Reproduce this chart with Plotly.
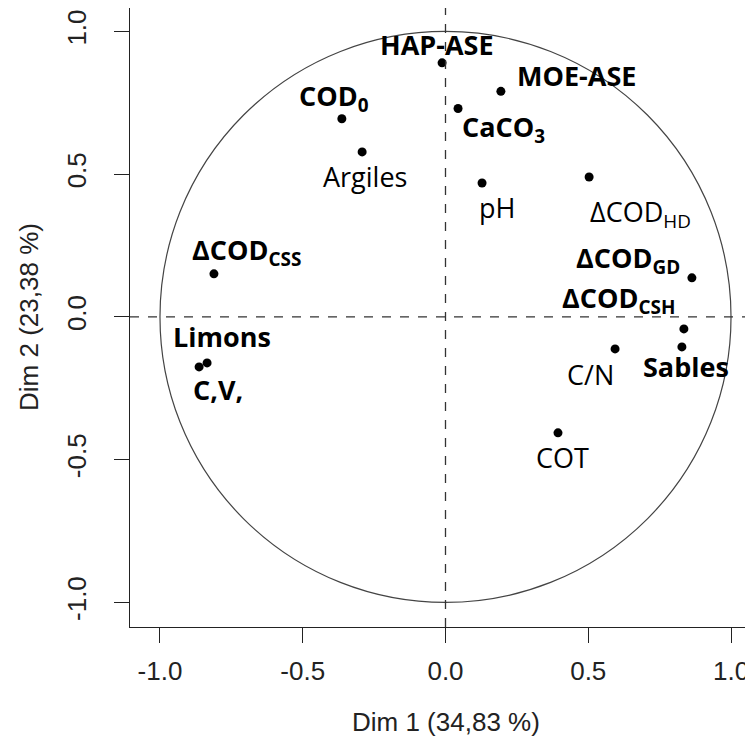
import plotly.graph_objects as go

# Variables of the PCA correlation circle (coordinates on Dim 1 / Dim 2)
labels = ["HAP-ASE", "MOE-ASE", "CaCO<sub>3</sub>", "COD<sub>0</sub>", "Argiles",
          "pH", "ΔCOD<sub>HD</sub>", "ΔCOD<sub>CSS</sub>", "ΔCOD<sub>GD</sub>",
          "ΔCOD<sub>CSH</sub>", "Sables", "C/N", "COT", "Limons", "C,V,"]
dim1 = [-0.012, 0.194, 0.044, -0.363, -0.292, 0.128, 0.503, -0.811, 0.863,
        0.835, 0.828, 0.594, 0.394, -0.835, -0.863]
dim2 = [0.890, 0.790, 0.730, 0.694, 0.578, 0.469, 0.490, 0.151, 0.137,
        -0.042, -0.105, -0.112, -0.406, -0.161, -0.175]
bold = [True, True, True, True, False, False, False, True, True,
        True, True, False, False, True, True]

# label placement relative to the dot (pixels, up = positive)
label_dx = [-5, 76, 45, -8, 3, 15, 51, 33, -64, -65, 4, -25, 5, 15, 19]
label_dy = [18, 16, -20, 21, -25, -24, -36, 22, 18, 29, -20, -26, -25, 26, -23]

tick_vals = [-1.0, -0.5, 0.0, 0.5, 1.0]
tick_text = ["-1.0", "-0.5", "0.0", "0.5", "1.0"]

fig = go.Figure()

fig.add_trace(go.Scatter(
    x=dim1, y=dim2, mode="markers",
    marker=dict(color="black", size=9),
    hoverinfo="skip", showlegend=False
))

# unit circle and dashed axes
fig.add_shape(type="circle", xref="x", yref="y", x0=-1, y0=-1, x1=1, y1=1,
              line=dict(color="#444444", width=1.2))
fig.add_shape(type="line", xref="x", yref="y domain", x0=0, x1=0, y0=0, y1=1,
              line=dict(color="#333333", width=1.3, dash="dash"))
fig.add_shape(type="line", xref="x domain", yref="y", x0=0, x1=1, y0=0, y1=0,
              line=dict(color="#333333", width=1.3, dash="dash"))

for lab, x, y, b, dx, dy in zip(labels, dim1, dim2, bold, label_dx, label_dy):
    fig.add_annotation(
        x=x, y=y, text=f"<b>{lab}</b>" if b else lab, showarrow=False,
        xshift=dx, yshift=dy, xanchor="center", yanchor="middle",
        font=dict(family="Open Sans", size=27, color="black")
    )

axis_font = dict(family="Liberation Sans", size=26, color="#222222")

fig.add_annotation(text="Dim 1 (34,83 %)", xref="x", x=0, yref="paper", y=0,
                   yanchor="middle", yshift=-95, showarrow=False, font=axis_font)
fig.add_annotation(text="Dim 2 (23,38 %)", xref="paper", x=0, xanchor="center",
                   xshift=-101, yref="y", y=0, textangle=-90, showarrow=False,
                   font=axis_font)

fig.update_xaxes(
    range=[-1.105, 1.077], tickvals=tick_vals, ticktext=tick_text,
    showgrid=False, zeroline=False, showline=True, mirror=True,
    linecolor="#222222", linewidth=1.3, ticks="outside", ticklen=15,
    tickwidth=1.3, tickcolor="#222222", tickfont=axis_font, ticklabelstandoff=6,
    automargin=False
)
fig.update_yaxes(
    range=[-1.086, 1.082], tickvals=tick_vals, ticktext=tick_text,
    showgrid=False, zeroline=False, showline=True, mirror=False,
    linecolor="#222222", linewidth=1.3, ticks="outside", ticklen=15,
    tickwidth=1.3, tickcolor="#222222", tickfont=axis_font, tickangle=-90,
    ticklabelstandoff=17, automargin=False
)

# the page adds an 8px body margin, so the figure is sized to end at the window edge
fig.update_layout(
    width=745, height=743,
    margin=dict(l=122, r=0, t=0, b=124),
    plot_bgcolor="white", paper_bgcolor="white",
    showlegend=False
)

fig.write_html("out.html")
